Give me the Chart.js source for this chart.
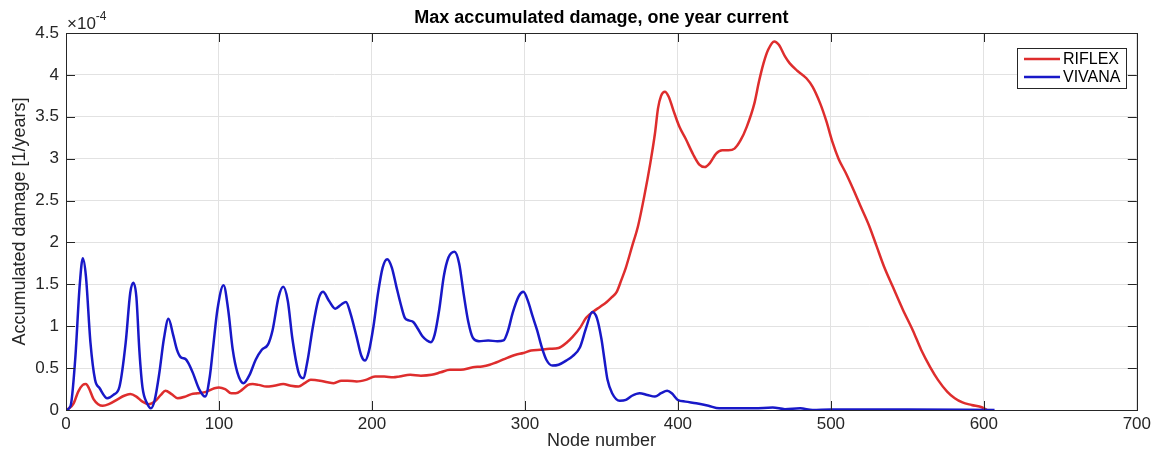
<!DOCTYPE html>
<html>
<head>
<meta charset="utf-8">
<script src="https://cdn.jsdelivr.net/npm/chart.js@4.4.1/dist/chart.umd.min.js"></script>
<style>
  html, body { margin: 0; padding: 0; background: #fff; }
  #wrap { width: 1155px; height: 452px; }
</style>
</head>
<body>
<div id="wrap"><canvas id="damageChart"></canvas></div>
<script>
// Node numbers and damage values (in units of 1e-4 per year)
const nodeRiflex = [0, 2, 5, 8, 11, 13, 15, 18, 21, 24, 28, 34, 38, 42, 46, 50, 54, 58, 62, 65, 69, 73, 78, 82, 86, 92, 97, 100, 104, 108, 111, 115, 119, 122, 126, 131, 136, 142, 147, 152, 156, 160, 166, 171, 175, 180, 184, 190, 196, 202, 208, 214, 218, 225, 232, 239, 245, 251, 258, 266, 272, 277, 283, 288, 294, 299, 304, 310, 316, 322, 327, 331, 336, 340, 345, 349, 353.5, 357, 360, 363, 366, 370, 374, 378, 382, 385, 387, 389, 391.5, 394, 397, 401, 405, 410, 414, 417.6, 421, 425, 429, 433, 437, 441, 445, 450, 453, 456, 459, 463, 466, 470, 473, 478, 484, 488, 493, 497, 501, 505, 510, 515, 519, 525, 530, 535, 540.5, 547, 553.6, 559, 565, 570, 576, 581, 586, 592, 599, 602];
const damageRiflex = [0, 0.02, 0.08, 0.22, 0.3, 0.31, 0.26, 0.13, 0.07, 0.05, 0.07, 0.13, 0.17, 0.19, 0.16, 0.1, 0.07, 0.1, 0.18, 0.23, 0.19, 0.14, 0.16, 0.19, 0.2, 0.22, 0.26, 0.27, 0.25, 0.2, 0.2, 0.24, 0.3, 0.31, 0.3, 0.28, 0.29, 0.31, 0.29, 0.28, 0.32, 0.36, 0.35, 0.33, 0.32, 0.35, 0.35, 0.34, 0.36, 0.4, 0.4, 0.39, 0.4, 0.42, 0.41, 0.42, 0.45, 0.48, 0.48, 0.51, 0.52, 0.54, 0.58, 0.62, 0.66, 0.68, 0.71, 0.72, 0.73, 0.74, 0.8, 0.87, 0.98, 1.1, 1.18, 1.23, 1.29, 1.35, 1.41, 1.55, 1.7, 1.95, 2.2, 2.55, 2.95, 3.3, 3.6, 3.75, 3.8, 3.74, 3.58, 3.38, 3.24, 3.05, 2.93, 2.9, 2.95, 3.06, 3.1, 3.1, 3.12, 3.22, 3.38, 3.66, 3.92, 4.14, 4.3, 4.4, 4.36, 4.22, 4.14, 4.05, 3.96, 3.86, 3.66, 3.45, 3.2, 3.0, 2.82, 2.62, 2.45, 2.2, 1.95, 1.7, 1.47, 1.2, 0.95, 0.72, 0.51, 0.36, 0.22, 0.14, 0.09, 0.06, 0.03, 0];

const nodeVivana = [0, 3, 6, 9, 11, 13, 16, 19, 22, 27, 31, 35, 39, 42, 44, 46, 48, 50, 53, 55.5, 58, 61, 64, 67, 70, 72.5, 75, 78, 80, 83, 87, 91, 94, 96, 99, 103, 106, 109, 112, 116, 120, 124, 128, 132, 135, 139, 142, 145, 148, 152, 155, 158, 161, 165, 168, 172, 176, 180, 183, 186, 190, 193, 195.5, 198, 201, 204, 207, 210, 213, 216, 219, 221.5, 224, 227, 230, 233, 236, 238.5, 241, 244, 247, 250, 254, 257, 260, 263, 266, 270, 276, 282, 286, 289, 292, 296, 299, 302, 305, 308, 311, 314, 318, 322, 327, 331, 336, 340, 344, 347, 350, 352, 354, 357, 362, 366, 370, 375, 380, 385, 389, 393, 396, 400, 405, 412, 420, 427, 440, 450, 462, 470, 480, 488, 500, 550, 607];
const damageVivana = [0, 0.05, 0.6, 1.5, 1.81, 1.6, 0.8, 0.36, 0.26, 0.14, 0.18, 0.28, 0.8, 1.4, 1.52, 1.35, 0.7, 0.27, 0.08, 0.02, 0.12, 0.44, 0.85, 1.09, 0.9, 0.72, 0.63, 0.61, 0.56, 0.44, 0.25, 0.16, 0.4, 0.72, 1.2, 1.49, 1.2, 0.72, 0.45, 0.32, 0.42, 0.6, 0.72, 0.78, 0.95, 1.35, 1.47, 1.3, 0.85, 0.45, 0.38, 0.6, 0.95, 1.32, 1.41, 1.3, 1.21, 1.26, 1.29, 1.15, 0.87, 0.65, 0.59, 0.7, 1.0, 1.4, 1.7, 1.8, 1.7, 1.47, 1.25, 1.1, 1.07, 1.05, 0.97, 0.88, 0.83, 0.81, 0.9, 1.2, 1.6, 1.82, 1.89, 1.75, 1.38, 1.05, 0.86, 0.82, 0.83, 0.82, 0.83, 0.95, 1.16, 1.36, 1.41, 1.3, 1.12, 0.95, 0.75, 0.6, 0.53, 0.54, 0.59, 0.64, 0.75, 0.98, 1.17, 1.1, 0.85, 0.6, 0.36, 0.2, 0.11, 0.12, 0.17, 0.2, 0.18, 0.16, 0.2, 0.23, 0.2, 0.12, 0.1, 0.08, 0.05, 0.02, 0.02, 0.02, 0.03, 0.01, 0.02, 0, 0.005, 0.005, 0];

const xTicks = [0, 100, 200, 300, 400, 500, 600, 700];
const yTicks = [0, 0.5, 1, 1.5, 2, 2.5, 3, 3.5, 4, 4.5];

const FONT = '"Liberation Sans", Arial, Helvetica, sans-serif';
const TEXT = '#262626';

function toPoints(xs, ys) {
    return xs.map((x, i) => ({ x: x, y: ys[i] }));
}

// Box, inward ticks, title, exponent and legend, drawn like a MATLAB axes
const axesDecor = {
    id: 'axesDecor',
    afterDraw(chart) {
        const ctx = chart.ctx;
        const a = chart.chartArea;
        const sx = chart.scales.x, sy = chart.scales.y;
        const tl = 9;
        ctx.save();
        ctx.strokeStyle = TEXT;
        ctx.lineWidth = 1;
        ctx.beginPath();
        xTicks.forEach(v => {
            const px = Math.round(sx.getPixelForValue(v)) + 0.5;
            ctx.moveTo(px, a.bottom); ctx.lineTo(px, a.bottom - tl);
            ctx.moveTo(px, a.top); ctx.lineTo(px, a.top + tl);
        });
        yTicks.forEach(v => {
            const py = Math.round(sy.getPixelForValue(v)) + 0.5;
            ctx.moveTo(a.left, py); ctx.lineTo(a.left + tl, py);
            ctx.moveTo(a.right, py); ctx.lineTo(a.right - tl, py);
        });
        ctx.stroke();
        ctx.strokeRect(Math.round(a.left) + 0.5, Math.round(a.top) + 0.5,
            Math.round(a.right - a.left), Math.round(a.bottom - a.top));

        // title
        ctx.fillStyle = '#000';
        ctx.font = 'bold 18px ' + FONT;
        ctx.textAlign = 'center';
        ctx.textBaseline = 'middle';
        ctx.fillText('Max accumulated damage, one year current', (a.left + a.right) / 2, 18);

        // exponent label
        ctx.fillStyle = TEXT;
        ctx.textAlign = 'left';
        ctx.textBaseline = 'alphabetic';
        ctx.font = '17px ' + FONT;
        ctx.fillText('\u00d710', a.left + 1, 29);
        const w = ctx.measureText('\u00d710').width;
        ctx.font = '12px ' + FONT;
        ctx.fillText('-4', a.left + 1 + w, 20);

        // legend
        const lx = 1017, ly = 48, lw = 109, lh = 40;
        ctx.fillStyle = '#fff';
        ctx.fillRect(lx, ly, lw, lh);
        ctx.strokeStyle = TEXT;
        ctx.lineWidth = 1;
        ctx.strokeRect(lx + 0.5, ly + 0.5, lw, lh);
        ctx.font = '16px ' + FONT;
        ctx.textBaseline = 'middle';
        chart.data.datasets.forEach((ds, i) => {
            const yy = ly + 11 + i * 18;
            ctx.strokeStyle = ds.borderColor;
            ctx.lineWidth = 2.5;
            ctx.beginPath();
            ctx.moveTo(lx + 7, yy); ctx.lineTo(lx + 43, yy);
            ctx.stroke();
            ctx.fillStyle = '#000';
            ctx.fillText(ds.label, lx + 46, yy + 1);
        });
        ctx.restore();
    }
};

new Chart(document.getElementById('damageChart'), {
    type: 'line',
    data: {
        datasets: [
            {
                label: 'RIFLEX',
                data: toPoints(nodeRiflex, damageRiflex),
                borderColor: 'rgb(222, 45, 45)',
                borderWidth: 2.5,
                pointRadius: 0,
                cubicInterpolationMode: 'monotone',
                order: 2
            },
            {
                label: 'VIVANA',
                data: toPoints(nodeVivana, damageVivana),
                borderColor: 'rgb(24, 24, 200)',
                borderWidth: 2.5,
                pointRadius: 0,
                cubicInterpolationMode: 'monotone',
                order: 1
            }
        ]
    },
    options: {
        responsive: true,
        maintainAspectRatio: false,
        animation: false,
        layout: { padding: { top: 33, right: 18, left: 0, bottom: 0 } },
        plugins: {
            legend: { display: false },
            tooltip: { enabled: false }
        },
        scales: {
            x: {
                type: 'linear',
                min: 0,
                max: 700,
                afterBuildTicks: s => { s.ticks = xTicks.map(v => ({ value: v })); },
                afterFit: s => { s.height = 42; },
                ticks: { color: TEXT, font: { family: FONT, size: 17 }, padding: 4, maxRotation: 0 },
                grid: { color: '#e2e2e2', drawTicks: false },
                border: { color: TEXT },
                title: {
                    display: true,
                    text: 'Node number',
                    color: TEXT,
                    font: { family: FONT, size: 18 },
                    padding: { top: 0, bottom: 0 }
                }
            },
            y: {
                min: 0,
                max: 4.5,
                afterBuildTicks: s => { s.ticks = yTicks.map(v => ({ value: v })); },
                afterFit: s => { s.width = 66; },
                ticks: { color: TEXT, font: { family: FONT, size: 17 }, padding: 7, callback: v => String(v) },
                grid: { color: '#e2e2e2', drawTicks: false },
                border: { color: TEXT },
                title: {
                    display: true,
                    text: 'Accumulated damage [1/years]',
                    color: TEXT,
                    font: { family: FONT, size: 18 },
                    padding: { top: 9, bottom: 0 }
                }
            }
        }
    },
    plugins: [axesDecor]
});
</script>
</body>
</html>
